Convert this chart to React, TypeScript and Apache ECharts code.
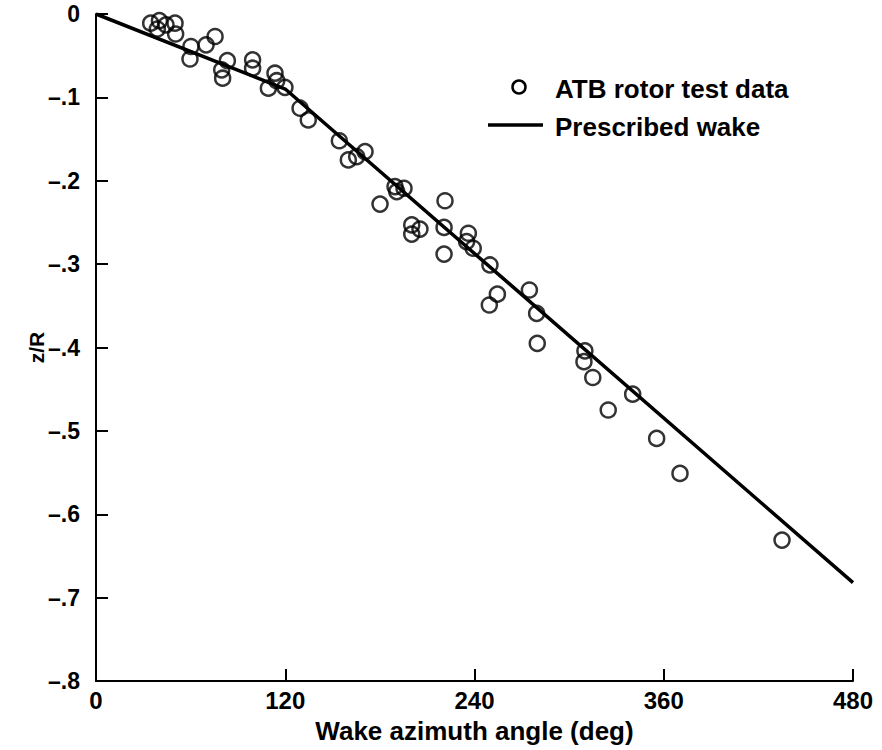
import React, { useEffect, useRef } from "react";
import * as echarts from "echarts";

// ATB rotor test data (wake azimuth angle in deg, z/R)
const testAzimuth = [
  34.7, 40.2, 44.4, 50.1, 50.5, 38.9, 60.2, 59.6, 75.5, 69.8,
  83.3, 79.7, 80.3, 99.3, 99.3, 113.5, 114.6, 109.3, 119.8, 129.4,
  134.6, 154.3, 160.0, 165.3, 170.6, 189.6, 195.3, 190.7, 180.1, 221.3,
  200.2, 205.4, 200.2, 220.7, 236.1, 235.0, 239.2, 220.7, 249.8, 274.8,
  254.5, 249.4, 279.4, 279.8, 310.0, 309.4, 315.0, 324.8, 340.3, 355.5,
  370.3, 435.0,
];
const testZ = [
  -0.011, -0.008, -0.013, -0.011, -0.024, -0.018, -0.039, -0.054, -0.027, -0.037,
  -0.056, -0.067, -0.077, -0.055, -0.065, -0.071, -0.080, -0.089, -0.088, -0.113,
  -0.127, -0.152, -0.175, -0.171, -0.165, -0.207, -0.209, -0.213, -0.228, -0.224,
  -0.253, -0.258, -0.264, -0.256, -0.263, -0.273, -0.281, -0.288, -0.301, -0.331,
  -0.336, -0.349, -0.359, -0.395, -0.404, -0.417, -0.436, -0.475, -0.456, -0.509,
  -0.551, -0.631,
];

// Prescribed wake model
const wakeAzimuth = [0, 120, 480];
const wakeZ = [0, -0.09, -0.682];

const xTicks = [0, 120, 240, 360, 480];
const legendLabels = ["ATB rotor test data", "Prescribed wake"];

const FONT = "'Liberation Sans', Arial, Helvetica, sans-serif";

export default function App() {
  const ref = useRef<HTMLDivElement>(null);

  useEffect(() => {
    if (!ref.current) return;
    const chart = echarts.init(ref.current, undefined, { renderer: "svg" });
    const scatterData = testAzimuth.map((x, i) => [x, testZ[i]]);
    const lineData = wakeAzimuth.map((x, i) => [x, wakeZ[i]]);

    chart.setOption({
      animation: false,
      backgroundColor: "#ffffff",
      grid: { left: 96, right: 29, top: 14, bottom: 69, containLabel: false },
      xAxis: {
        type: "value",
        min: xTicks[0],
        max: xTicks[xTicks.length - 1],
        interval: 120,
        name: "Wake azimuth angle (deg)",
        nameLocation: "middle",
        nameGap: 37,
        nameMoveOverlap: false,
        nameTextStyle: { fontFamily: FONT, fontWeight: "bold", fontSize: 26, color: "#000" },
        axisLine: { show: true, onZero: false, lineStyle: { color: "#000", width: 2 } },
        axisTick: { show: true, inside: true, length: 12, lineStyle: { color: "#000", width: 2 } },
        axisLabel: { fontFamily: FONT, fontWeight: "bold", fontSize: 24, color: "#000", margin: 7 },
        splitLine: { show: false },
      },
      yAxis: {
        type: "value",
        min: -0.8,
        max: 0,
        interval: 0.1,
        name: "z/R",
        nameLocation: "middle",
        nameGap: 49,
        nameMoveOverlap: false,
        nameRotate: 90,
        nameTextStyle: { fontFamily: FONT, fontWeight: "bold", fontSize: 21, color: "#000" },
        axisLine: { show: true, onZero: false, lineStyle: { color: "#000", width: 2 } },
        axisTick: { show: true, inside: true, length: 12, lineStyle: { color: "#000", width: 2 } },
        axisLabel: {
          fontFamily: FONT,
          fontWeight: "bold",
          fontSize: 23,
          color: "#000",
          margin: 16,
          formatter: (v: number) => {
            const d = Math.round(-v * 10);
            return d === 0 ? "0" : "\u2013." + d;
          },
        },
        splitLine: { show: false },
      },
      series: [
        {
          name: legendLabels[1],
          type: "line",
          data: lineData,
          symbol: "none",
          lineStyle: { color: "#000", width: 3.5 },
          z: 2,
        },
        {
          name: legendLabels[0],
          type: "scatter",
          data: scatterData,
          symbol: "circle",
          symbolSize: 15,
          itemStyle: { color: "rgba(0,0,0,0)", borderColor: "#000", borderWidth: 2.5 },
          z: 3,
        },
      ],
      graphic: [
        {
          type: "circle",
          shape: { cx: 519, cy: 87, r: 6.5 },
          style: { fill: "none", stroke: "#000", lineWidth: 2.5 },
        },
        {
          type: "text",
          x: 555,
          y: 89,
          style: {
            text: legendLabels[0],
            fontFamily: FONT,
            fontWeight: "bold",
            fontSize: 26,
            fill: "#000",
            textVerticalAlign: "middle",
          },
        },
        {
          type: "line",
          shape: { x1: 488, y1: 125, x2: 543, y2: 125 },
          style: { stroke: "#000", lineWidth: 3.5 },
        },
        {
          type: "text",
          x: 555,
          y: 127,
          style: {
            text: legendLabels[1],
            fontFamily: FONT,
            fontWeight: "bold",
            fontSize: 26,
            fill: "#000",
            textVerticalAlign: "middle",
          },
        },
      ],
    });

    return () => chart.dispose();
  }, []);

  return (
    <div
      ref={ref}
      style={{ position: "fixed", left: 0, top: 0, width: 882, height: 750, background: "#fff" }}
    />
  );
}
